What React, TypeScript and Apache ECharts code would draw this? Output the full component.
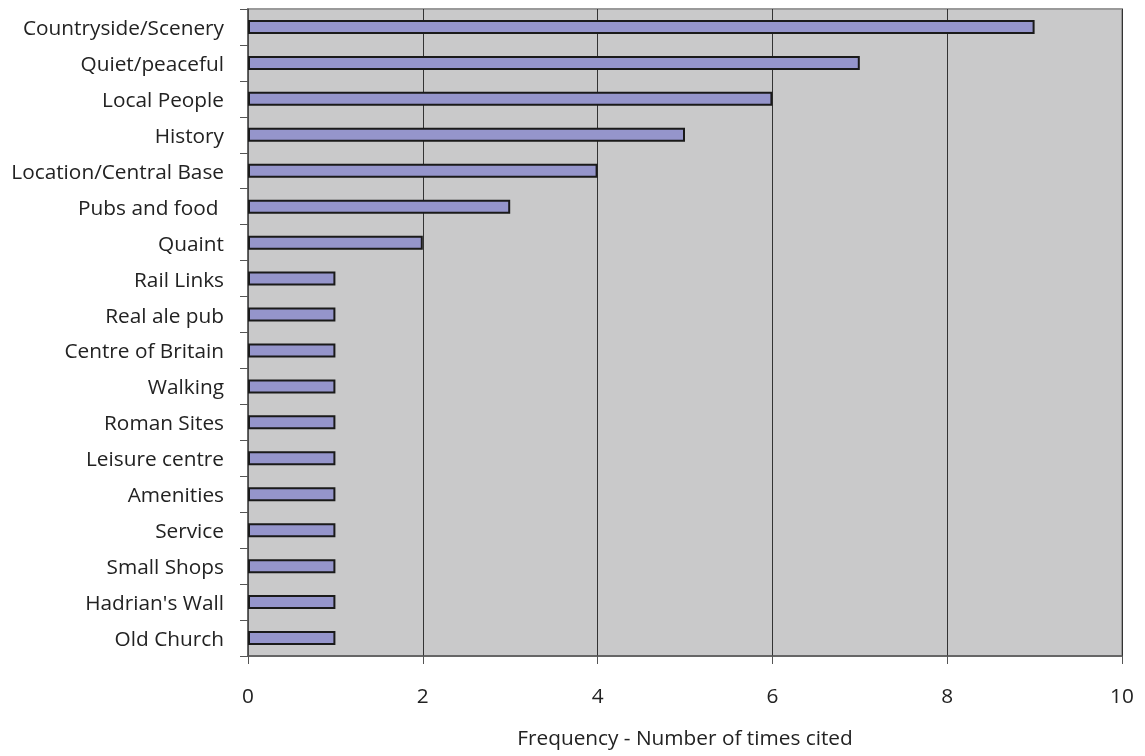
import React, { useEffect, useRef } from "react";
import * as echarts from "echarts";

// Reasons cited, listed top to bottom as displayed
const categories = [
  "Countryside/Scenery",
  "Quiet/peaceful",
  "Local People",
  "History",
  "Location/Central Base",
  "Pubs and food ",
  "Quaint",
  "Rail Links",
  "Real ale pub",
  "Centre of Britain",
  "Walking",
  "Roman Sites",
  "Leisure centre",
  "Amenities",
  "Service",
  "Small Shops",
  "Hadrian's Wall",
  "Old Church",
];
const counts = [9, 7, 6, 5, 4, 3, 2, 1, 1, 1, 1, 1, 1, 1, 1, 1, 1, 1];
const xTicks = [0, 2, 4, 6, 8, 10];

const FONT = "'Open Sans', 'Noto Sans', sans-serif";
const FONT_SIZE = 20.8;

export default function App() {
  const ref = useRef<HTMLDivElement>(null);

  useEffect(() => {
    if (!ref.current) return;
    const chart = echarts.init(ref.current, null, { renderer: "svg" });
    chart.setOption({
      animation: false,
      grid: {
        left: 248,
        top: 9,
        right: 23,
        bottom: 100,
        show: true,
        backgroundColor: "#c9c9ca",
        borderColor: "#9a9a9a",
        borderWidth: 2,
      },
      xAxis: {
        type: "value",
        min: xTicks[0],
        max: xTicks[xTicks.length - 1],
        interval: 2,
        name: "Frequency - Number of times cited",
        nameLocation: "middle",
        nameGap: 70,
        nameTextStyle: { fontFamily: FONT, fontSize: FONT_SIZE, color: "#222" },
        axisLine: { show: true, lineStyle: { color: "#555", width: 1.5 } },
        axisTick: { show: true, length: 8, lineStyle: { color: "#555" } },
        axisLabel: {
          fontFamily: FONT,
          fontSize: FONT_SIZE,
          color: "#222",
          margin: 28,
        },
        splitLine: { show: true, lineStyle: { color: "#333", width: 1 } },
      },
      yAxis: {
        type: "category",
        data: categories,
        inverse: true,
        axisLine: { show: true, lineStyle: { color: "#555", width: 1.5 } },
        axisTick: { show: true, length: 8, lineStyle: { color: "#555" } },
        axisLabel: {
          fontFamily: FONT,
          fontSize: FONT_SIZE,
          color: "#222",
          margin: 24,
        },
        splitLine: { show: false },
      },
      series: [
        {
          type: "bar",
          data: counts,
          barWidth: 14,
          itemStyle: {
            color: "#9595cb",
            borderColor: "#1a1a1a",
            borderWidth: 2,
          },
        },
      ],
    });
    return () => chart.dispose();
  }, []);

  return (
    <div
      ref={ref}
      style={{ position: "fixed", left: 0, top: 0, width: 1145, height: 756 }}
    />
  );
}
